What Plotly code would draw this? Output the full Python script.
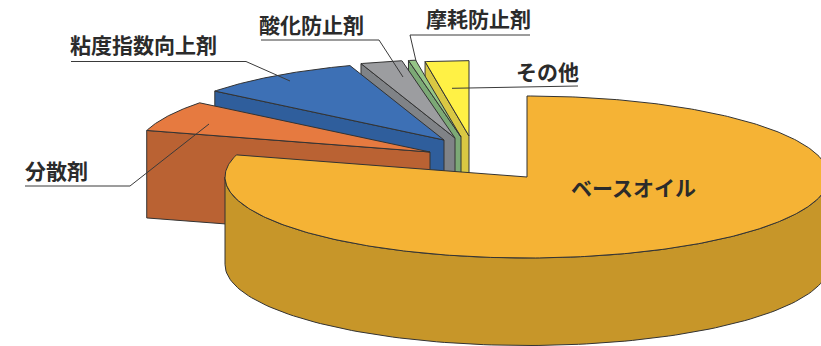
import numpy as np
import plotly.graph_objects as go

# Share of each component, in pie order starting at 12 o'clock and going clockwise
categories = ["ベースオイル", "分散剤", "粘度指数向上剤", "酸化防止剤", "摩耗防止剤", "その他"]
shares = [79.4, 6.3, 9.1, 2.3, 0.4, 2.5]

# Drawing style for each slice
top_colors = ["#F5B335", "#E67A40", "#3D70B5", "#9C9DA0", "#95C587", "#FFF145"]
side_colors = ["#C79629", "#BA6233", "#2F5E9C", "#808387", "#7CA976", "#D9C843"]
apex_x = [527, 430, 444, 455, 461, 469]
apex_y = [177, 152, 140, 138, 137, 136]
radius_scale = [1.0, 0.975, 0.97, 0.97, 0.96, 0.93]

RX, RY, DEPTH = 302, 81, 87.5
EDGE = "#333333"
TEXT = "#2B2B2B"

# Text positions and leader lines
label_pos = {
    "ベースオイル": (633, 187),
    "分散剤": (56, 170),
    "粘度指数向上剤": (143, 44),
    "酸化防止剤": (311, 24),
    "摩耗防止剤": (478, 18),
    "その他": (547, 71),
}
leaders = {
    "分散剤": [(25, 186), (130, 186), (209, 124)],
    "粘度指数向上剤": [(71, 61.5), (246, 61.5), (290, 81)],
    "酸化防止剤": [(261, 40), (379, 40), (403, 77)],
    "摩耗防止剤": [(530, 35), (410, 35), (416, 61)],
    "その他": [(578, 86), (452, 88.3)],
}

fractions = np.array(shares) / sum(shares)
edges = np.concatenate([[0.0], np.cumsum(fractions)]) * 2 * np.pi


def rim(i, start, stop, n=120):
    """Points on the top rim of slice i, angles clockwise from 12 o'clock."""
    t = np.linspace(start, stop, n)
    s = radius_scale[i]
    return apex_x[i] + RX * s * np.sin(t), apex_y[i] - RY * s * np.cos(t)


def polygon(x, y, color):
    return go.Scatter(
        x=np.append(x, x[0]), y=np.append(y, y[0]),
        mode="lines", fill="toself", fillcolor=color,
        line=dict(color=EDGE, width=1), hoverinfo="skip", showlegend=False,
    )


fig = go.Figure()

# Back slices first, so the nearer ones paint over them
for i in range(len(shares) - 1, 0, -1):
    rx, ry = rim(i, edges[i], edges[i + 1])
    # Radial wall on the side that faces the viewer
    wall_x = np.array([rx[0], apex_x[i], apex_x[i], rx[0]])
    wall_y = np.array([ry[0], apex_y[i], apex_y[i] + DEPTH, ry[0] + DEPTH])
    fig.add_trace(polygon(wall_x, wall_y, side_colors[i]))
    fig.add_trace(polygon(np.r_[apex_x[i], rx], np.r_[apex_y[i], ry], top_colors[i]))

# Large slice: curved front wall, then its top
wx, wy = rim(0, np.pi / 2, 3 * np.pi / 2)
fig.add_trace(polygon(np.r_[wx, wx[::-1]], np.r_[wy, wy[::-1] + DEPTH], side_colors[0]))
rx, ry = rim(0, edges[0], edges[1], 400)
fig.add_trace(polygon(np.r_[apex_x[0], rx], np.r_[apex_y[0], ry], top_colors[0]))

# Leader lines
for name, pts in leaders.items():
    fig.add_trace(go.Scatter(
        x=[p[0] for p in pts], y=[p[1] for p in pts], mode="lines",
        line=dict(color="#3A3A3A", width=1), hoverinfo="skip", showlegend=False,
    ))

for name in categories:
    x, y = label_pos[name]
    fig.add_annotation(
        x=x, y=y, xref="x", yref="y", text=name, showarrow=False,
        xanchor="center", yanchor="middle",
        font=dict(family="Noto Sans CJK JP", size=21, color=TEXT, weight=700),
    )

fig.update_layout(
    width=821, height=346, margin=dict(l=0, r=0, t=0, b=0),
    paper_bgcolor="white", plot_bgcolor="white", showlegend=False,
    xaxis=dict(range=[0, 821], visible=False, fixedrange=True),
    yaxis=dict(range=[346, 0], visible=False, fixedrange=True),
)
fig.write_html("out.html", config={"displayModeBar": False})
